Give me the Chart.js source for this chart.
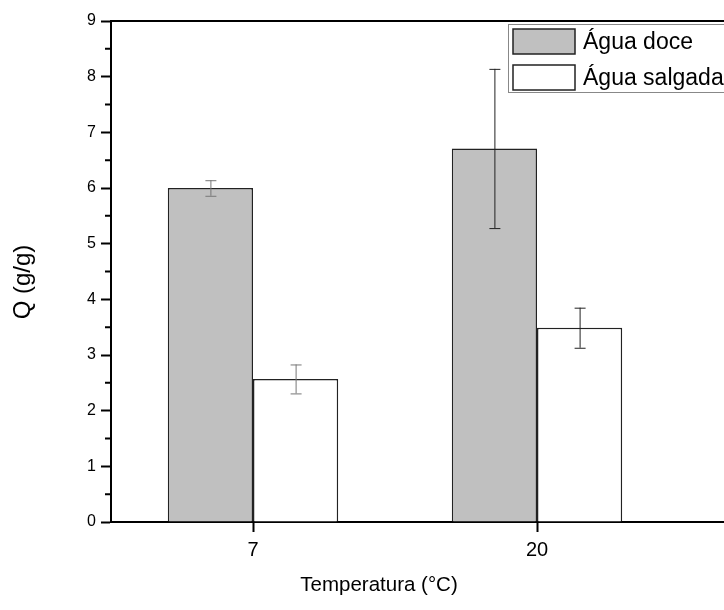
<!DOCTYPE html>
<html>
<head>
<meta charset="utf-8">
<script src="https://cdn.jsdelivr.net/npm/chart.js@4"></script>
<style>
  html, body { margin: 0; padding: 0; background: #fff; overflow: hidden; }
  #wrap { width: 724px; height: 610px; overflow: hidden; }
</style>
</head>
<body>
<div id="wrap"><canvas id="GraficoQ" width="970" height="610"></canvas></div>
<script>
// temperaturas (a terceira categoria fica fora do recorte)
var temperaturas = ['7', '20', ''];
var nomesSeries = ['Água doce', 'Água salgada'];
var qDoce = [6.0, 6.71, null];
var qSalgada = [2.57, 3.49, null];
var erroDoce = [0.14, 1.43, null];
var erroSalgada = [0.26, 0.36, null];
var ticksY = [0, 1, 2, 3, 4, 5, 6, 7, 8, 9];
var tituloX = 'Temperatura (°C)';
var tituloY = 'Q (g/g)';

var fonte = "'Liberation Sans', Arial, sans-serif";

// barras de erro
var pluginErros = {
    id: 'erros',
    afterDatasetsDraw: function (chart) {
        var ctx = chart.ctx;
        var y = chart.scales.y;
        chart.data.datasets.forEach(function (ds, i) {
            var meta = chart.getDatasetMeta(i);
            meta.data.forEach(function (barra, j) {
                var v = ds.data[j], e = ds.erros[j];
                if (v == null || e == null) return;
                var x = barra.x;
                var y1 = y.getPixelForValue(v + e);
                var y2 = y.getPixelForValue(v - e);
                ctx.save();
                ctx.strokeStyle = ds.corErro[j];
                ctx.lineWidth = 1;
                ctx.beginPath();
                ctx.moveTo(x + 0.5, y1); ctx.lineTo(x + 0.5, y2);
                ctx.moveTo(x - 5, y1 + 0.5); ctx.lineTo(x + 6, y1 + 0.5);
                ctx.moveTo(x - 5, y2 + 0.5); ctx.lineTo(x + 6, y2 + 0.5);
                ctx.stroke();
                ctx.restore();
            });
        });
    }
};

// moldura de cima, ticks menores, titulos e legenda
var pluginMoldura = {
    id: 'moldura',
    afterDraw: function (chart) {
        var ctx = chart.ctx;
        var a = chart.chartArea;
        var y = chart.scales.y;
        ctx.save();
        ctx.strokeStyle = '#000';
        ctx.lineWidth = 2;
        ctx.beginPath();
        ctx.moveTo(a.left - 1, a.top); ctx.lineTo(a.right, a.top);
        ctx.stroke();

        ctx.beginPath();
        for (var k = 0; k < ticksY.length - 1; k++) {
            var py = y.getPixelForValue(ticksY[k] + 0.5);
            ctx.moveTo(a.left - 6, py); ctx.lineTo(a.left, py);
        }
        ctx.stroke();

        // titulos dos eixos
        ctx.fillStyle = '#000';
        ctx.textAlign = 'center';
        ctx.textBaseline = 'middle';
        ctx.font = '20.5px ' + fonte;
        ctx.fillText(tituloX, 379, 585);
        ctx.save();
        ctx.translate(23, 282);
        ctx.rotate(-Math.PI / 2);
        ctx.font = '24px ' + fonte;
        ctx.fillText(tituloY, 0, 0);
        ctx.restore();

        // legenda
        var lx = 508, ly = 24;
        ctx.fillStyle = '#fff';
        ctx.fillRect(lx, ly, 240, 68);
        ctx.strokeStyle = '#888';
        ctx.lineWidth = 1;
        ctx.strokeRect(lx + 0.5, ly + 0.5, 240, 68);
        chart.data.datasets.forEach(function (ds, i) {
            var sy = ly + 5 + i * 36;
            ctx.fillStyle = ds.backgroundColor;
            ctx.fillRect(513, sy, 62, 25);
            ctx.strokeStyle = '#222';
            ctx.lineWidth = 1.5;
            ctx.strokeRect(513, sy, 62, 25);
            ctx.fillStyle = '#000';
            ctx.font = '23px ' + fonte;
            ctx.textBaseline = 'middle';
            ctx.textAlign = 'left';
            ctx.fillText(ds.label, 583, sy + 14);
        });
        ctx.restore();
    }
};

var ctx = document.getElementById('GraficoQ').getContext('2d');

var grafico = new Chart(ctx, {
    type: 'bar',
    data: {
        labels: temperaturas,
        datasets: [
            {
                label: nomesSeries[0],
                data: qDoce,
                erros: erroDoce,
                corErro: ['#777', '#222', '#222'],
                backgroundColor: '#c0c0c0',
                borderColor: '#222',
                borderWidth: 1.5,
                barPercentage: 1,
                categoryPercentage: 0.6
            },
            {
                label: nomesSeries[1],
                data: qSalgada,
                erros: erroSalgada,
                corErro: ['#777', '#222', '#222'],
                backgroundColor: '#ffffff',
                borderColor: '#222',
                borderWidth: 1.5,
                barPercentage: 1,
                categoryPercentage: 0.6
            }
        ]
    },
    options: {
        responsive: false,
        animation: false,
        layout: { padding: { top: 21, right: 7, left: 0, bottom: 0 } },
        plugins: {
            legend: { display: false },
            tooltip: { enabled: false }
        },
        scales: {
            x: {
                grid: {
                    offset: false,
                    drawOnChartArea: false,
                    tickLength: 10,
                    tickWidth: 2,
                    tickColor: '#000'
                },
                border: { color: '#000', width: 2 },
                ticks: {
                    color: '#000',
                    padding: 6,
                    maxRotation: 0,
                    font: { family: fonte, size: 20 }
                },
                afterFit: function (s) { s.height = 88; }
            },
            y: {
                min: 0,
                max: 9,
                afterBuildTicks: function (s) {
                    s.ticks = ticksY.map(function (v) { return { value: v }; });
                },
                grid: {
                    drawOnChartArea: false,
                    tickLength: 10,
                    tickWidth: 2,
                    tickColor: '#000'
                },
                border: { color: '#000', width: 2 },
                ticks: {
                    color: '#000',
                    padding: 5,
                    font: { family: fonte, size: 16 }
                },
                afterFit: function (s) { s.width = 111; }
            }
        }
    },
    plugins: [pluginErros, pluginMoldura]
});
</script>
</body>
</html>
